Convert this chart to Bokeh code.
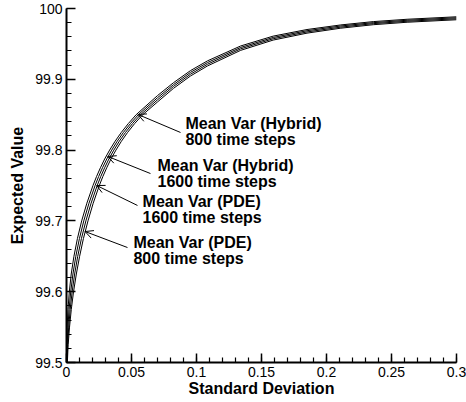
from bokeh.plotting import figure
from bokeh.models import FixedTicker, CustomJSTickFormatter, Label, Arrow, OpenHead
from bokeh.embed import file_html
from bokeh.resources import INLINE

# Expected value vs. standard deviation, four solution variants
sd_hybrid_800 = [0.00002, 0.00013, 0.00047, 0.00113, 0.00218, 0.00364, 0.00571, 0.00839, 0.01167,
                 0.01567, 0.02037, 0.02307, 0.02607, 0.02937, 0.03317, 0.03737, 0.04217, 0.04757, 0.05357,
                 0.0700, 0.0823, 0.0954, 0.1085, 0.134, 0.159, 0.185, 0.211, 0.236, 0.262, 0.3]
ev_hybrid_800 = [99.500, 99.525, 99.550, 99.575, 99.600, 99.625, 99.650, 99.675, 99.700,
                 99.725, 99.750, 99.7625, 99.775, 99.7875, 99.800, 99.8125, 99.825, 99.8375, 99.850,
                 99.8770, 99.8952, 99.9123, 99.9261, 99.9471, 99.9610, 99.9703, 99.9768, 99.9815, 99.9848, 99.9883]

sd_hybrid_1600 = [0.00019, 0.00051, 0.00109, 0.00198, 0.00326, 0.00495, 0.00717, 0.00993, 0.01329,
                  0.01729, 0.02199, 0.02469, 0.02769, 0.03099, 0.03479, 0.03899, 0.04379, 0.04919, 0.05526,
                  0.0700, 0.0823, 0.0954, 0.1085, 0.134, 0.159, 0.185, 0.211, 0.236, 0.262, 0.3]
ev_hybrid_1600 = [99.500, 99.525, 99.550, 99.575, 99.600, 99.625, 99.650, 99.675, 99.700,
                  99.725, 99.750, 99.7625, 99.775, 99.7875, 99.800, 99.8125, 99.825, 99.8375, 99.850,
                  99.8740, 99.8925, 99.9098, 99.9237, 99.9450, 99.9591, 99.9686, 99.9753, 99.9800, 99.9834, 99.9869]

sd_pde_1600 = [0.00042, 0.00089, 0.00171, 0.00283, 0.00434, 0.00626, 0.00863, 0.01147, 0.01491,
               0.01891, 0.02361, 0.02631, 0.02931, 0.03261, 0.03641, 0.04061, 0.04541, 0.05081, 0.05695,
               0.0700, 0.0823, 0.0954, 0.1085, 0.134, 0.159, 0.185, 0.211, 0.236, 0.262, 0.3]
ev_pde_1600 = [99.500, 99.525, 99.550, 99.575, 99.600, 99.625, 99.650, 99.675, 99.700,
               99.725, 99.750, 99.7625, 99.775, 99.7875, 99.800, 99.8125, 99.825, 99.8375, 99.850,
               99.8710, 99.8899, 99.9072, 99.9213, 99.9430, 99.9573, 99.9669, 99.9737, 99.9786, 99.9820, 99.9855]

sd_pde_800 = [0.00065, 0.00127, 0.00233, 0.00368, 0.00542, 0.00757, 0.01009, 0.01301, 0.01653,
              0.02053, 0.02523, 0.02793, 0.03093, 0.03423, 0.03803, 0.04223, 0.04703, 0.05243, 0.05864,
              0.0700, 0.0823, 0.0954, 0.1085, 0.134, 0.159, 0.185, 0.211, 0.236, 0.262, 0.3]
ev_pde_800 = [99.500, 99.525, 99.550, 99.575, 99.600, 99.625, 99.650, 99.675, 99.700,
              99.725, 99.750, 99.7625, 99.775, 99.7875, 99.800, 99.8125, 99.825, 99.8375, 99.850,
              99.8680, 99.8872, 99.9047, 99.9189, 99.9409, 99.9554, 99.9652, 99.9722, 99.9771, 99.9806, 99.9841]

x_major = [0, 0.05, 0.1, 0.15, 0.2, 0.25, 0.3]
x_minor = [round(0.01 * i, 2) for i in range(31)]
y_major = [99.5, 99.6, 99.7, 99.8, 99.9, 100]
y_minor = [round(99.5 + 0.02 * i, 2) for i in range(26)]

# callouts: two text lines, text anchor (left x, first-line y, second-line y), arrow tail and tip
callout_text = [("Mean Var (Hybrid)", "800 time steps"),
                ("Mean Var (Hybrid)", "1600 time steps"),
                ("Mean Var (PDE)", "1600 time steps"),
                ("Mean Var (PDE)", "800 time steps")]
callout_anchor = [(0.0915, 99.8376, 99.8150),
                  (0.0700, 99.7782, 99.7556),
                  (0.0585, 99.7274, 99.7048),
                  (0.0515, 99.6695, 99.6469)]
callout_arrow = [((0.0877, 99.8249), (0.0550, 99.8503)),
                 ((0.0646, 99.7669), (0.0318, 99.7910)),
                 ((0.0546, 99.7218), (0.0232, 99.7500)),
                 ((0.0469, 99.6624), (0.0143, 99.6850))]

FONT = "Liberation Sans"

p = figure(width=466, height=402, x_range=(0, 0.3), y_range=(99.5, 100),
           output_backend="svg", toolbar_location=None,
           min_border_left=66, min_border_right=10, min_border_top=8, min_border_bottom=40)
p.outline_line_color = None
p.grid.visible = False
p.background_fill_color = "white"
p.border_fill_color = "white"

for xs, ys in [(sd_hybrid_800, ev_hybrid_800), (sd_hybrid_1600, ev_hybrid_1600),
               (sd_pde_1600, ev_pde_1600), (sd_pde_800, ev_pde_800)]:
    p.line(xs, ys, line_color="black", line_width=1.0)

fmt = CustomJSTickFormatter(code="return String(Number(tick.toFixed(4)));")
p.xaxis.ticker = FixedTicker(ticks=x_major, minor_ticks=x_minor)
p.yaxis.ticker = FixedTicker(ticks=y_major, minor_ticks=y_minor)
p.xaxis.formatter = fmt
p.yaxis.formatter = fmt
p.xaxis.axis_label = "Standard Deviation"
p.yaxis.axis_label = "Expected Value"

for ax in (p.xaxis, p.yaxis):
    ax.axis_line_width = 2
    ax.axis_line_color = "black"
    ax.major_tick_in = 9
    ax.major_tick_out = 0
    ax.minor_tick_in = 5
    ax.minor_tick_out = 0
    ax.major_tick_line_width = 1.5
    ax.minor_tick_line_width = 1.2
    ax.major_tick_line_color = "black"
    ax.minor_tick_line_color = "black"
    ax.major_label_text_font = FONT
    ax.major_label_text_font_size = "14px"
    ax.major_label_text_color = "black"
    ax.major_label_standoff = 4
    ax.axis_label_text_font = FONT
    ax.axis_label_text_font_size = "16px"
    ax.axis_label_text_font_style = "bold"
    ax.axis_label_text_color = "black"
p.xaxis.axis_label_standoff = 0
p.yaxis.axis_label_standoff = 6

for (t1, t2), (ax_, y1, y2), (tail, tip) in zip(callout_text, callout_anchor, callout_arrow):
    for txt, yy in ((t1, y1), (t2, y2)):
        p.add_layout(Label(x=ax_, y=yy, text=txt, text_font=FONT, text_font_size="16px",
                           text_font_style="bold", text_color="black", text_baseline="middle",
                           text_align="left"))
    p.add_layout(Arrow(x_start=tail[0], y_start=tail[1], x_end=tip[0], y_end=tip[1],
                       line_color="black", line_width=1,
                       end=OpenHead(size=8, line_width=1, line_color="black")))

open("out.html", "w").write(file_html(p, INLINE))
